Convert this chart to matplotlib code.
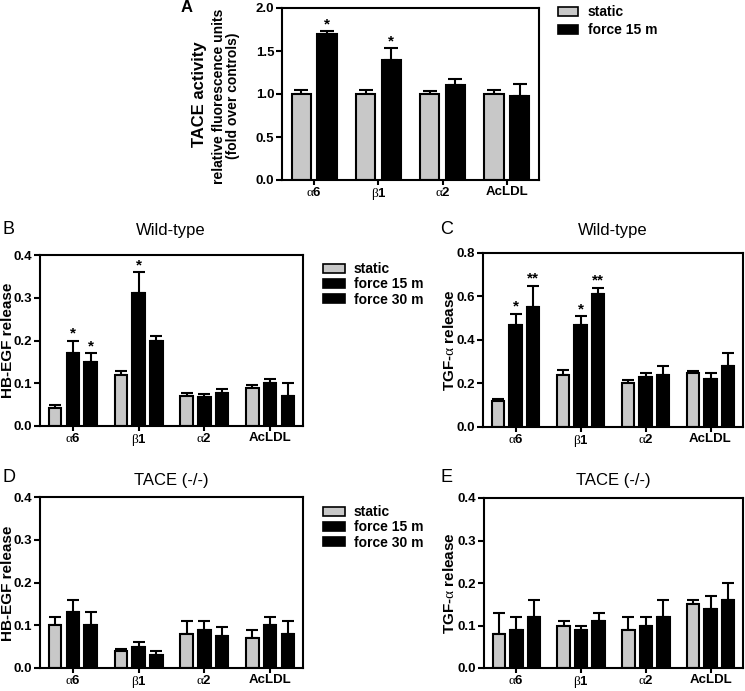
import numpy as np
import matplotlib
matplotlib.use('Agg')
import matplotlib.pyplot as plt
from matplotlib.patches import Patch

plt.rcParams['font.family'] = ['Liberation Sans', 'DejaVu Sans']
plt.rcParams['mathtext.fontset'] = 'custom'
plt.rcParams['mathtext.rm'] = 'Liberation Serif'

groups = [r'$\mathrm{\alpha}$6', r'$\mathrm{\beta}$1', r'$\mathrm{\alpha}$2', 'AcLDL']

# panel A: TACE activity
a_static = [1.0, 1.0, 1.0, 1.0]
a_static_err = [0.05, 0.05, 0.04, 0.05]
a_force15 = [1.70, 1.40, 1.10, 0.98]
a_force15_err = [0.03, 0.13, 0.08, 0.14]

# panel B: HB-EGF wild-type
b_static = [0.042, 0.12, 0.07, 0.09]
b_static_err = [0.007, 0.008, 0.008, 0.006]
b_force15 = [0.17, 0.31, 0.067, 0.10]
b_force15_err = [0.03, 0.05, 0.009, 0.01]
b_force30 = [0.15, 0.20, 0.077, 0.07]
b_force30_err = [0.02, 0.01, 0.009, 0.03]

# panel C: TGF-alpha wild-type
c_static = [0.12, 0.24, 0.20, 0.25]
c_static_err = [0.01, 0.02, 0.015, 0.008]
c_force15 = [0.47, 0.47, 0.23, 0.22]
c_force15_err = [0.05, 0.04, 0.02, 0.03]
c_force30 = [0.55, 0.61, 0.24, 0.28]
c_force30_err = [0.10, 0.03, 0.04, 0.06]

# panel D: HB-EGF TACE -/-
d_static = [0.10, 0.04, 0.08, 0.07]
d_static_err = [0.02, 0.005, 0.03, 0.02]
d_force15 = [0.13, 0.05, 0.09, 0.10]
d_force15_err = [0.03, 0.01, 0.02, 0.02]
d_force30 = [0.10, 0.03, 0.075, 0.08]
d_force30_err = [0.03, 0.01, 0.02, 0.03]

# panel E: TGF-alpha TACE -/-
e_static = [0.08, 0.10, 0.09, 0.15]
e_static_err = [0.05, 0.01, 0.03, 0.01]
e_force15 = [0.09, 0.09, 0.10, 0.14]
e_force15_err = [0.03, 0.01, 0.02, 0.03]
e_force30 = [0.12, 0.11, 0.12, 0.16]
e_force30_err = [0.04, 0.02, 0.04, 0.04]

# significance marks: (series index, group index, text)
a_stars = [(1, 0, '*'), (1, 1, '*')]
b_stars = [(1, 0, '*'), (2, 0, '*'), (1, 1, '*')]
c_stars = [(1, 0, '*'), (2, 0, '**'), (1, 1, '*'), (2, 1, '**')]

GRAY = '#c8c8c8'
W, H = 745, 691
fig = plt.figure(figsize=(W / 100, H / 100), dpi=100)


def px_axes(x0, x1, y0, y1):
    return fig.add_axes([x0 / W, 1 - y1 / H, (x1 - x0) / W, (y1 - y0) / H])


def bar_panel(ax, series, errs, offsets, width, ymax, step, stars, cap):
    x = np.arange(len(groups))
    colors = [GRAY, 'black', 'black']
    for i, (vals, err) in enumerate(zip(series, errs)):
        xs = x + offsets[i]
        ax.bar(xs, vals, width, color=colors[i], edgecolor='black', linewidth=1.5, zorder=2)
        ax.errorbar(xs, vals, yerr=[np.zeros(len(vals)), err], fmt='none',
                    ecolor='black', elinewidth=1.5, capsize=cap, capthick=1.5, zorder=1)
    for si, gi, txt in stars:
        top = series[si][gi] + errs[si][gi]
        ax.text(x[gi] + offsets[si], top, txt, ha='center', va='bottom',
                fontsize=11, fontweight='bold')
    ticks = np.arange(0, ymax + step / 2, step)
    ax.set_xlim(-0.5, len(groups) - 0.5)
    ax.set_ylim(0, ymax)
    ax.set_yticks(ticks)
    ax.set_yticklabels(['{:.1f}'.format(v) for v in ticks])
    ax.set_xticks(x)
    ax.set_xticklabels(groups)
    for s in ax.spines.values():
        s.set_linewidth(1.5)
    ax.tick_params(width=1.5, length=4, labelsize=9.5)
    ax.tick_params(axis='y', pad=1.5)
    ax.tick_params(axis='x', length=3.5, pad=0.5)
    for lab in ax.get_xticklabels() + ax.get_yticklabels():
        lab.set_fontweight('bold')


def ylab(xc, yc, txt, size=11):
    fig.text(xc / W, 1 - yc / H, txt, rotation=90, fontsize=size, fontweight='bold',
             ha='center', va='center')


# A
axA = px_axes(282, 539, 8, 180)
bar_panel(axA, [a_static, a_force15], [a_static_err, a_force15_err], [-0.2, 0.2], 0.3,
          2.0, 0.5, a_stars, 5)
fig.text(181 / W, 1 - 7 / H, 'A', fontsize=12, fontweight='bold', ha='left', va='center')
ylab(199, 94, 'TACE activity', 12)
ylab(219, 96, 'relative fluorescence units', 10)
ylab(233, 96, '(fold over controls)', 10)
handles2 = [Patch(facecolor=GRAY, edgecolor='black', linewidth=1.2),
            Patch(facecolor='black', edgecolor='black', linewidth=1.2)]
fig.legend(handles2, ['static', 'force 15 m'], loc='upper left',
           bbox_to_anchor=(558 / W, 1 - 5 / H), frameon=False, borderpad=0, borderaxespad=0,
           handlelength=1.45, handleheight=0.6, labelspacing=0.3, handletextpad=0.7,
           prop={'size': 10, 'weight': 'bold'})

three_off = [-0.27, 0.0, 0.27]
handles3 = [Patch(facecolor=GRAY, edgecolor='black', linewidth=1.2),
            Patch(facecolor='black', edgecolor='black', linewidth=1.2),
            Patch(facecolor='black', edgecolor='black', linewidth=1.2)]
labels3 = ['static', 'force 15 m', 'force 30 m']
tga = r'TGF-$\mathrm{\alpha}$ release'

# B
axB = px_axes(40, 303, 255, 426)
bar_panel(axB, [b_static, b_force15, b_force30],
          [b_static_err, b_force15_err, b_force30_err], three_off, 0.19,
          0.4, 0.1, b_stars, 4.5)
ylab(8, 340, 'HB-EGF release')
fig.text(3 / W, 1 - 230 / H, 'B', fontsize=13, ha='left', va='center')
fig.text(171 / W, 1 - 230 / H, 'Wild-type', fontsize=12, ha='center', va='center')
fig.legend(handles3, labels3, loc='upper left',
           bbox_to_anchor=(323 / W, 1 - 262 / H), frameon=False, borderpad=0, borderaxespad=0,
           handlelength=1.6, handleheight=0.6, labelspacing=0.1, handletextpad=0.6,
           prop={'size': 10, 'weight': 'bold'})

# C
axC = px_axes(483, 743, 253, 427)
bar_panel(axC, [c_static, c_force15, c_force30],
          [c_static_err, c_force15_err, c_force30_err], three_off, 0.19,
          0.8, 0.2, c_stars, 4.5)
ylab(450, 340, tga)
fig.text(440 / W, 1 - 230 / H, 'C', fontsize=13, ha='left', va='center')
fig.text(613 / W, 1 - 230 / H, 'Wild-type', fontsize=12, ha='center', va='center')

# D
axD = px_axes(40, 303, 497, 668)
bar_panel(axD, [d_static, d_force15, d_force30],
          [d_static_err, d_force15_err, d_force30_err], three_off, 0.19,
          0.4, 0.1, [], 4.5)
ylab(8, 583, 'HB-EGF release')
fig.text(3 / W, 1 - 478 / H, 'D', fontsize=13, ha='left', va='center')
fig.text(171 / W, 1 - 481 / H, 'TACE (-/-)', fontsize=12, ha='center', va='center')
fig.legend(handles3, labels3, loc='upper left',
           bbox_to_anchor=(323 / W, 1 - 505 / H), frameon=False, borderpad=0, borderaxespad=0,
           handlelength=1.6, handleheight=0.6, labelspacing=0.1, handletextpad=0.6,
           prop={'size': 10, 'weight': 'bold'})

# E
axE = px_axes(484, 743, 498, 668)
bar_panel(axE, [e_static, e_force15, e_force30],
          [e_static_err, e_force15_err, e_force30_err], three_off, 0.19,
          0.4, 0.1, [], 4.5)
ylab(449, 583, tga)
fig.text(440 / W, 1 - 478 / H, 'E', fontsize=13, ha='left', va='center')
fig.text(613 / W, 1 - 481 / H, 'TACE (-/-)', fontsize=12, ha='center', va='center')

fig.savefig('out.png', dpi=100)
